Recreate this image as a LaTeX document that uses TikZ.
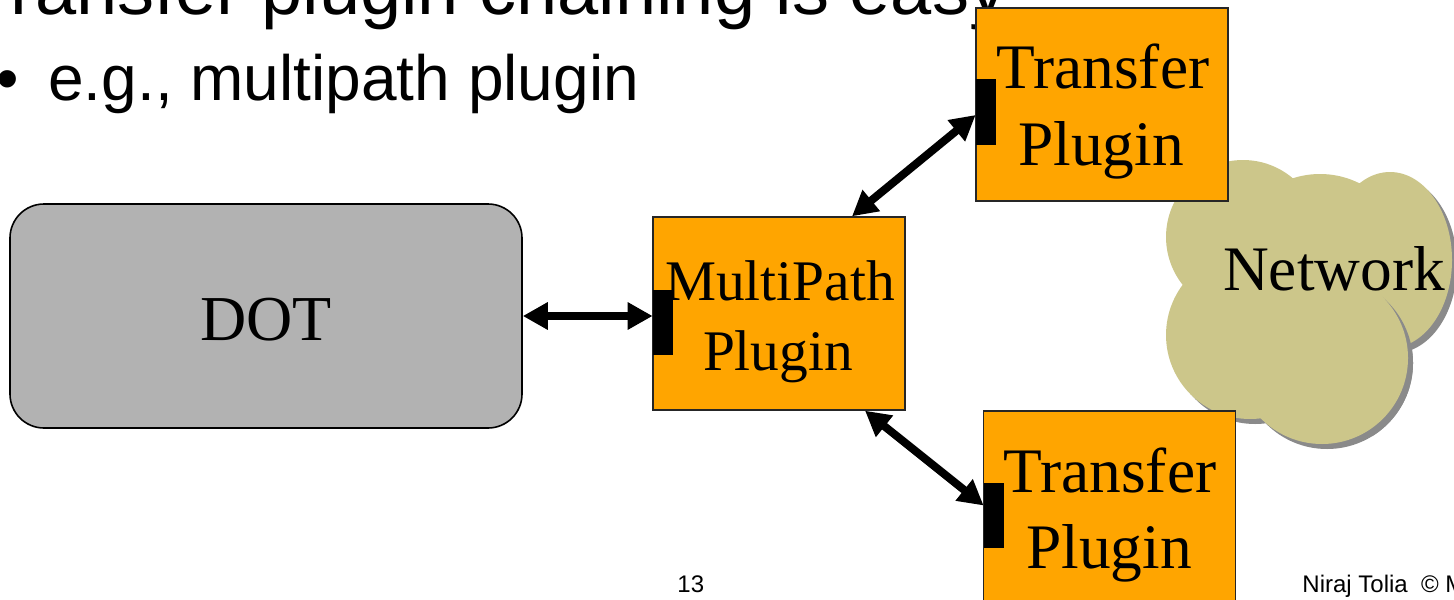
\documentclass[tikz,border=0pt]{standalone}
\usepackage{fontspec}
\setmainfont{Liberation Serif}
\newfontfamily\slidesans{Liberation Sans}
\usetikzlibrary{arrows.meta}

\definecolor{plugorange}{RGB}{255,165,0}
\definecolor{dotgray}{RGB}{178,178,178}
\definecolor{cloudfill}{RGB}{204,198,138}
\definecolor{cloudshade}{RGB}{138,138,138}

\begin{document}
\begin{tikzpicture}[x=0.5pt,y=-0.5pt,
  plug/.style={draw=black!85, line width=0.7pt, fill=plugorange,
    minimum width=126pt, minimum height=96.5pt, inner sep=0pt},
  port/.style={fill=black, minimum width=10pt, minimum height=32.5pt, inner sep=0pt},
  dotbox/.style={draw=black, line width=0.8pt, fill=dotgray, rounded corners=17pt,
    minimum width=256pt, minimum height=112pt, inner sep=0pt,
    font=\fontsize{32}{38}\selectfont, text height=24pt, text depth=0pt},
  plugtxt/.style={anchor=base, inner sep=0pt, font=\fontsize{31.7}{38}\selectfont},
  mptxt/.style={anchor=base, inner sep=0pt, font=\fontsize{28.7}{35}\selectfont},
  slidetxt/.style={anchor=base west, inner sep=0pt},
  conn/.style={line width=4pt,
    {Triangle[length=12.5pt,width=13pt]}-{Triangle[length=12.5pt,width=13pt]}}]

\useasboundingbox (0,0) rectangle (1454,599);

% slide heading and bullet
\node[slidetxt, font=\slidesans\fontsize{37}{44}\selectfont] (title) at (-32,15)
  {Transfer plugin chaining is easy};
\node[slidetxt, font=\slidesans\fontsize{32}{38}\selectfont] (bul) at (-4,101) {\textbullet};
\node[slidetxt, font=\slidesans\fontsize{32}{38}\selectfont] (item) at (48,101)
  {e.g., multipath plugin};

% network cloud: shadow, then lobes
\fill[cloudshade, xshift=2.5pt, yshift=-2.5pt]
  (1243,237) circle[radius=38.5pt]
  (1320,262) circle[radius=44pt]
  (1390,260) ellipse[x radius=31pt, y radius=44pt]
  (1250,335) circle[radius=42pt]
  (1322,358) circle[radius=43pt];
\fill[cloudfill]
  (1243,237) circle[radius=38.5pt]
  (1320,262) circle[radius=44pt]
  (1390,260) ellipse[x radius=31pt, y radius=44pt]
  (1250,335) circle[radius=42pt];
\begin{scope}
  \clip (1372,295) rectangle (1460,470);
  \fill[cloudshade] (1327,363) circle[radius=43pt];
\end{scope}
\fill[cloudfill] (1322,358) circle[radius=43pt];
\node[plugtxt] (net) at (1334,290) {Network};

% DOT application
\node[dotbox] (dot) at (266,316) {DOT};

% multipath plugin
\node[plug] (mp) at (779,313.5) {};
\node[mptxt] (mpa) at (780,300) {MultiPath};
\node[mptxt] (mpb) at (778,370) {Plugin};
\node[port] (mpport) at (663,322.5) {};

% upper transfer plugin
\node[plug] (tpa) at (1102,104.5) {};
\node[plugtxt] (tpa1) at (1103,89) {Transfer};
\node[plugtxt] (tpa2) at (1101,165) {Plugin};
\node[port] (tpaport) at (986,112) {};

% lower transfer plugin
\node[plug] (tpb) at (1109.5,507.5) {};
\node[plugtxt] (tpb1) at (1110,492) {Transfer};
\node[plugtxt] (tpb2) at (1109,568) {Plugin};
\node[port] (tpbport) at (994,515.5) {};

% connectors
\draw[conn] (dot.east) -- (dot.east -| mpport.west);
\draw[conn] ([xshift=36.5pt]mp.north) -- ([yshift=-1.5pt]tpaport.west);
\draw[conn] ([xshift=43pt]mp.south) -- ([yshift=5pt]tpbport.west);

% footer
\node[slidetxt, font=\slidesans\fontsize{12}{14}\selectfont] (pg) at (677,592) {13};
\node[slidetxt, font=\slidesans\fontsize{12}{14}\selectfont] (auth) at (1302,592)
  {Niraj Tolia\ \ \textcopyright\ M};
\end{tikzpicture}
\end{document}
